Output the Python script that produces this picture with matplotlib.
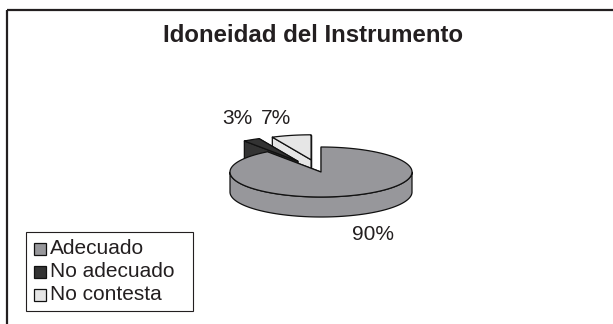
import numpy as np
import matplotlib
matplotlib.use("Agg")
import matplotlib.pyplot as plt
from matplotlib.patches import Polygon, Rectangle

plt.rcParams['font.family'] = ['Liberation Sans', 'DejaVu Sans']

labels = ["Adecuado", "No adecuado", "No contesta"]
values = [90, 3, 7]
colors = ["#97979b", "#333333", "#e6e6e6"]
explode = [0.0, 0.5, 0.5]

# pie geometry in pixels (axes spans the whole figure)
cx, cy = 321, 172
rx, ry = 91, 25
depth = 20
# text anchors for the percentage labels
label_xy = [(373, 234), (237, 119), (276, 118)]

W, H = 613, 324
fig = plt.figure(figsize=(W / 100, H / 100), dpi=100)
ax = fig.add_axes([0, 0, 1, 1])
ax.set_xlim(0, W)
ax.set_ylim(H, 0)
ax.axis("off")

ink = "#231f20"

# frame lines along the top and left
ax.plot([7, W], [9.5, 9.5], color=ink, lw=1.6, solid_capstyle="butt")
ax.plot([7, 7], [9.5, H], color=ink, lw=1.6, solid_capstyle="butt")

ax.text(313, 36, "Idoneidad del Instrumento", ha="center", va="center",
        fontsize=17.3, fontweight="bold", color=ink)


def pt(x0, y0, t, r=1.0, dz=0.0):
    return x0 + rx * r * np.cos(t), y0 - ry * r * np.sin(t) + dz


total = float(sum(values))
slices = []
hi = 90.0
for v, c, e in zip(values, colors, explode):
    lo = hi - v / total * 360.0
    mid = np.radians((lo + hi) / 2)
    ox, oy = pt(cx, cy, mid, e)
    slices.append((np.radians(lo), np.radians(hi), mid, ox, oy, c))
    hi = lo

# back slices first
order = sorted(range(len(slices)), key=lambda i: -np.sin(slices[i][2]))
z = 1
for i in order:
    lo, hi, mid, ox, oy, c = slices[i]
    kw = dict(facecolor=c, edgecolor="#111111", lw=0.9, joinstyle="round")
    # radial walls: hidden first, then visible
    walls = [(hi, hi + np.pi / 2), (lo, lo - np.pi / 2)]
    walls.sort(key=lambda w: -np.sin(w[1]))
    for t, n in walls:
        x1, y1 = pt(ox, oy, t)
        poly = [(ox, oy), (x1, y1), (x1, y1 + depth), (ox, oy + depth)]
        ax.add_patch(Polygon(poly, closed=True, zorder=z, **kw))
        z += 1
    # outer wall on the front half
    ts = np.linspace(lo, hi, 400)
    front = np.sin(ts) <= 0
    runs = []
    cur = []
    for t, f in zip(ts, front):
        if f:
            cur.append(t)
        elif cur:
            runs.append(cur)
            cur = []
    if cur:
        runs.append(cur)
    for run in runs:
        run = np.array(run)
        top = [pt(ox, oy, t) for t in run]
        bot = [pt(ox, oy, t, dz=depth) for t in run[::-1]]
        ax.add_patch(Polygon(top + bot, closed=True, zorder=z, **kw))
        z += 1
    # top face
    arc = [pt(ox, oy, t) for t in ts]
    ax.add_patch(Polygon([(ox, oy)] + arc, closed=True, zorder=z, **kw))
    z += 1

for (x, y), v in zip(label_xy, values):
    ax.text(x, y, f"{v}%", ha="center", va="center", fontsize=15,
            color=ink, zorder=z)

# legend box, drawn by hand
ax.add_patch(Rectangle((26, 232), 167, 79, facecolor="white",
                       edgecolor=ink, lw=0.8, zorder=z))
for k, (lab, c) in enumerate(zip(labels, colors)):
    yc = 248.5 + 23 * k
    ax.add_patch(Rectangle((34, yc - 6), 12, 12, facecolor=c,
                           edgecolor="#111111", lw=0.9, zorder=z + 1))
    ax.text(50, yc, lab, ha="left", va="center", fontsize=15,
            color=ink, zorder=z + 1)

fig.savefig("out.png", dpi=100)
